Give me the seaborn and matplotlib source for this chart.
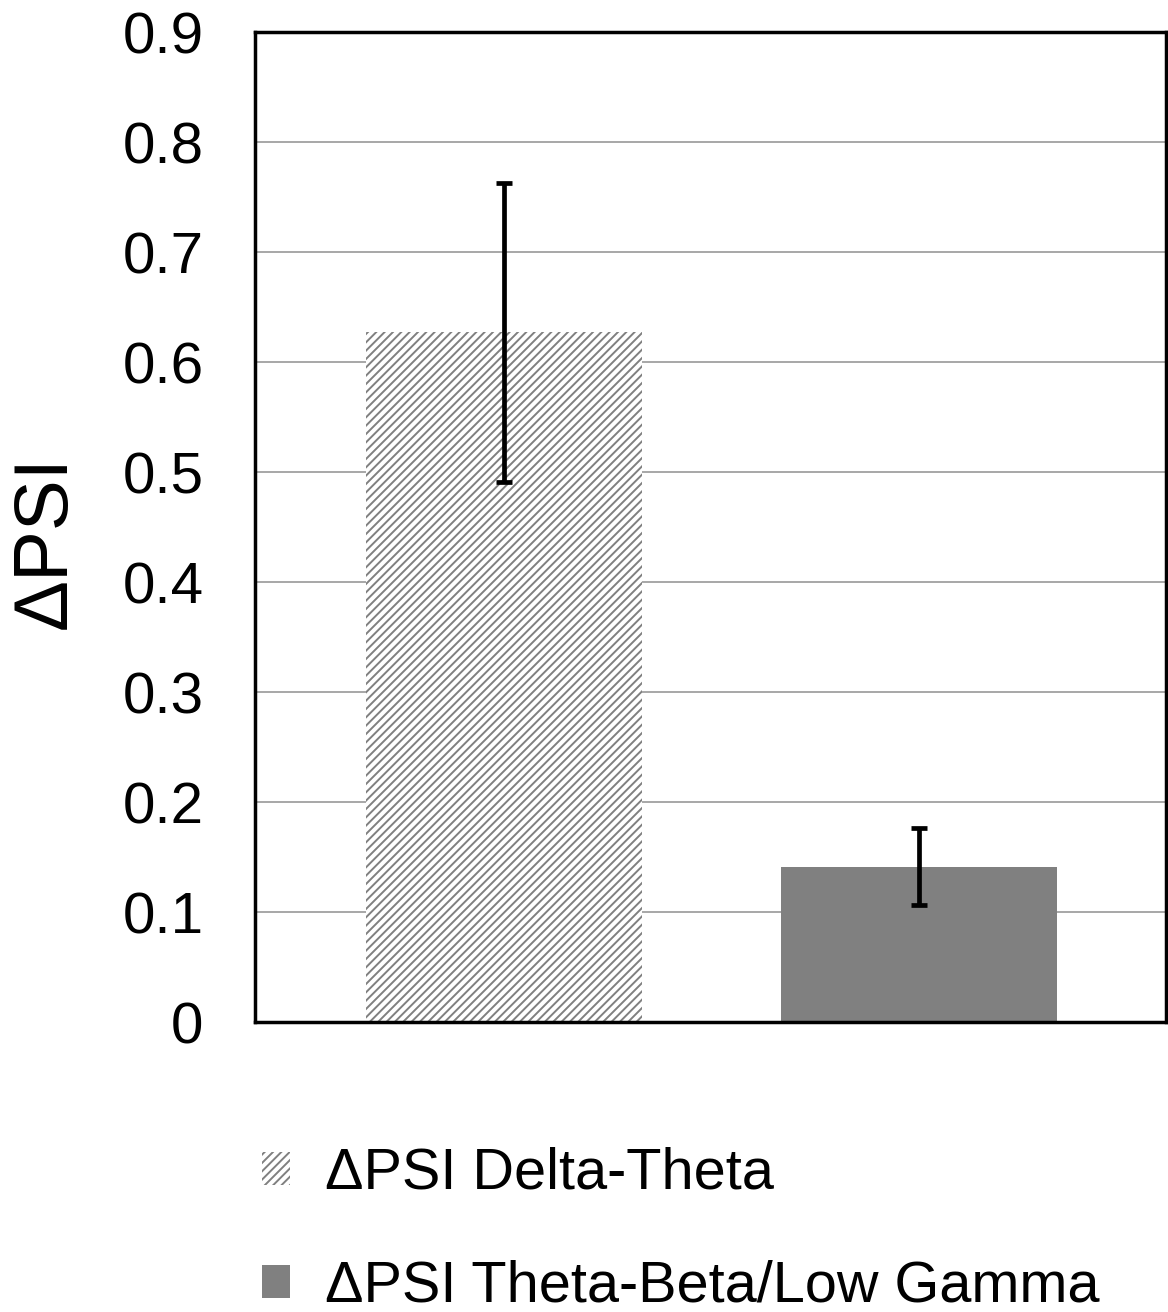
import matplotlib
matplotlib.use("Agg")
import matplotlib.pyplot as plt
import seaborn as sns
import pandas as pd
from matplotlib.patches import Patch

categories = ["\u0394PSI Delta-Theta", "\u0394PSI Theta-Beta/Low Gamma"]
values = [0.627, 0.141]
errors = [0.136, 0.035]
yticks = [0, 0.1, 0.2, 0.3, 0.4, 0.5, 0.6, 0.7, 0.8, 0.9]
ytick_labels = ["0", "0.1", "0.2", "0.3", "0.4", "0.5", "0.6", "0.7", "0.8", "0.9"]

sns.set_theme(style="white")
plt.rcParams["font.family"] = ["Liberation Sans", "DejaVu Sans"]
plt.rcParams["hatch.linewidth"] = 1.4
plt.rcParams["hatch.color"] = "#808080"
plt.rcParams["text.color"] = "black"
plt.rcParams["axes.labelcolor"] = "black"
plt.rcParams["ytick.color"] = "black"

df = pd.DataFrame({"cat": categories, "val": values})

fig = plt.figure(figsize=(11.68, 13.12), dpi=100)
ax = fig.add_axes([0.2183, 0.221, 0.7800, 0.7546])

sns.barplot(data=df, x="cat", y="val", ax=ax, width=0.665,
            palette=["white", "#808080"], hue="cat", legend=False,
            errorbar=None, saturation=1, zorder=2)
bars = ax.patches
bars[0].set_facecolor("white")
bars[0].set_hatch("////")
bars[0].set_edgecolor("#808080")
bars[0].set_linewidth(0)
bars[1].set_facecolor("#808080")
bars[1].set_edgecolor("#808080")
bars[1].set_linewidth(0)

ax.errorbar(x=[0, 1], y=values, yerr=errors, fmt="none", ecolor="black",
            elinewidth=3.4, capsize=5.5, capthick=3.4, zorder=3)

ax.set_xlim(-0.6, 1.595)
ax.set_ylim(0, 0.9)
ax.set_yticks(yticks)
ax.set_yticklabels(ytick_labels, fontsize=42, color="black")
ax.set_xticks([])
ax.set_xlabel("")
ax.set_ylabel("\u0394PSI", fontsize=55, labelpad=29, color="black", y=0.485)
ax.tick_params(axis="y", length=0, pad=37)
ax.yaxis.grid(True, color="#a0a0a0", linewidth=1.3, zorder=0)
ax.set_axisbelow(True)
for s in ax.spines.values():
    s.set_color("black")
    s.set_linewidth(2.5)
    s.set_visible(True)

handles = [Patch(facecolor="white", edgecolor="#808080", hatch="////", linewidth=0),
           Patch(facecolor="#808080", edgecolor="#808080", linewidth=0)]
fig.legend(handles, categories, loc="upper left", bbox_to_anchor=(0.2243, 0.1258),
           frameon=False, fontsize=41.5, handlelength=0.49, handleheight=0.49,
           handletextpad=0.6, labelspacing=1.02, borderpad=0, borderaxespad=0,
           labelcolor="black")

fig.savefig("out.png", dpi=100)
